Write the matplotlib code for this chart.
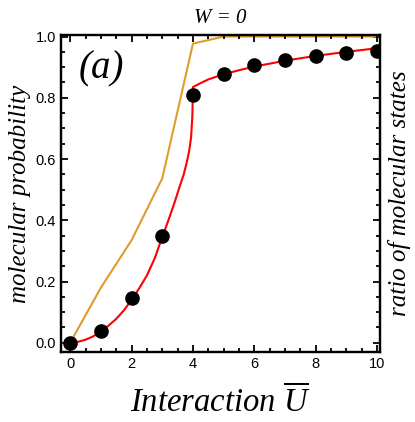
import numpy as np
import matplotlib.pyplot as plt
from matplotlib.ticker import MultipleLocator

plt.rcParams['mathtext.fontset'] = 'custom'
plt.rcParams['mathtext.it'] = 'Liberation Serif:italic'
plt.rcParams['mathtext.rm'] = 'Liberation Serif'

# numerical points (black dots)
u_pts = [0, 1, 2, 3, 4, 5, 6, 7, 8, 9, 10]
prob_pts = [0.0, 0.037, 0.147, 0.348, 0.81, 0.877, 0.906, 0.924, 0.936, 0.947, 0.954]

# fitted curve (red)
u_fit = [0, 0.25, 0.5, 0.75, 1, 1.25, 1.5, 1.75, 2, 2.25, 2.5, 2.75, 3,
         3.2, 3.4, 3.55, 3.7, 3.8, 3.88, 3.94, 3.98, 4.0,
         4.25, 4.5, 5, 5.5, 6, 7, 8, 9, 10]
prob_fit = [0.0, 0.003, 0.01, 0.021, 0.037, 0.056, 0.078, 0.106, 0.14,
            0.178, 0.22, 0.275, 0.345, 0.4, 0.458, 0.505, 0.55, 0.59, 0.628,
            0.672, 0.74, 0.835, 0.848, 0.86, 0.877, 0.89, 0.902, 0.921,
            0.937, 0.95, 0.962]

# ratio of molecular states (orange)
u_ratio = [0, 1, 2, 3, 4, 5, 6, 7, 8, 9, 10]
ratio = [0.0, 0.18, 0.335, 0.537, 0.977, 1.0, 1.0, 1.0, 1.0, 1.0, 1.0]

fig = plt.figure(figsize=(4.15, 4.22), dpi=100)
ax = fig.add_axes([0.147, 0.166, 0.769, 0.751])
ax2 = ax.twinx()

ax2.plot(u_ratio, ratio, color='#e09c2a', lw=1.5)
ax.plot(u_fit, prob_fit, color='red', lw=1.5, zorder=3)
ax.plot(u_pts, prob_pts, 'o', color='black', ms=9.5, zorder=4)

for a in (ax, ax2):
    a.set_xlim(-0.3, 10.1)
    a.set_ylim(-0.03, 1.005)
    for s in a.spines.values():
        s.set_linewidth(1.6)
ax.set_zorder(ax2.get_zorder() + 1)
ax.patch.set_visible(False)

ax.xaxis.set_major_locator(MultipleLocator(2))
ax.xaxis.set_minor_locator(MultipleLocator(0.5))
ax.yaxis.set_major_locator(MultipleLocator(0.2))
ax.yaxis.set_minor_locator(MultipleLocator(0.05))
ax2.yaxis.set_major_locator(MultipleLocator(0.2))
ax2.yaxis.set_minor_locator(MultipleLocator(0.05))

ax.tick_params(which='both', direction='in', top=True, right=False, width=1.3,
               labelsize=10.5)
ax.tick_params(which='major', length=5)
ax.tick_params(which='minor', length=3)
ax2.tick_params(which='both', direction='in', width=1.3, labelright=False)
ax2.tick_params(which='major', length=5)
ax2.tick_params(which='minor', length=3)
for lab in ax.get_xticklabels() + ax.get_yticklabels():
    lab.set_fontfamily('Liberation Sans')

ax.set_xlabel(r'Interaction $\overline{U}$', fontsize=23.5,
              family='Liberation Serif', style='italic', labelpad=10)
ax.set_ylabel('molecular probability', fontsize=18,
              family='Liberation Serif', style='italic', labelpad=3)
ax2.set_ylabel('ratio of molecular states', fontsize=18,
               family='Liberation Serif', style='italic', rotation=90,
               labelpad=6)
ax.set_title('W = 0', fontsize=15, family='Liberation Serif', style='italic', pad=9)

ax.text(1.0, 0.895, '(a)', fontsize=28, family='Liberation Serif',
        style='italic', ha='center', va='center')

fig.savefig('out.png', dpi=100)
